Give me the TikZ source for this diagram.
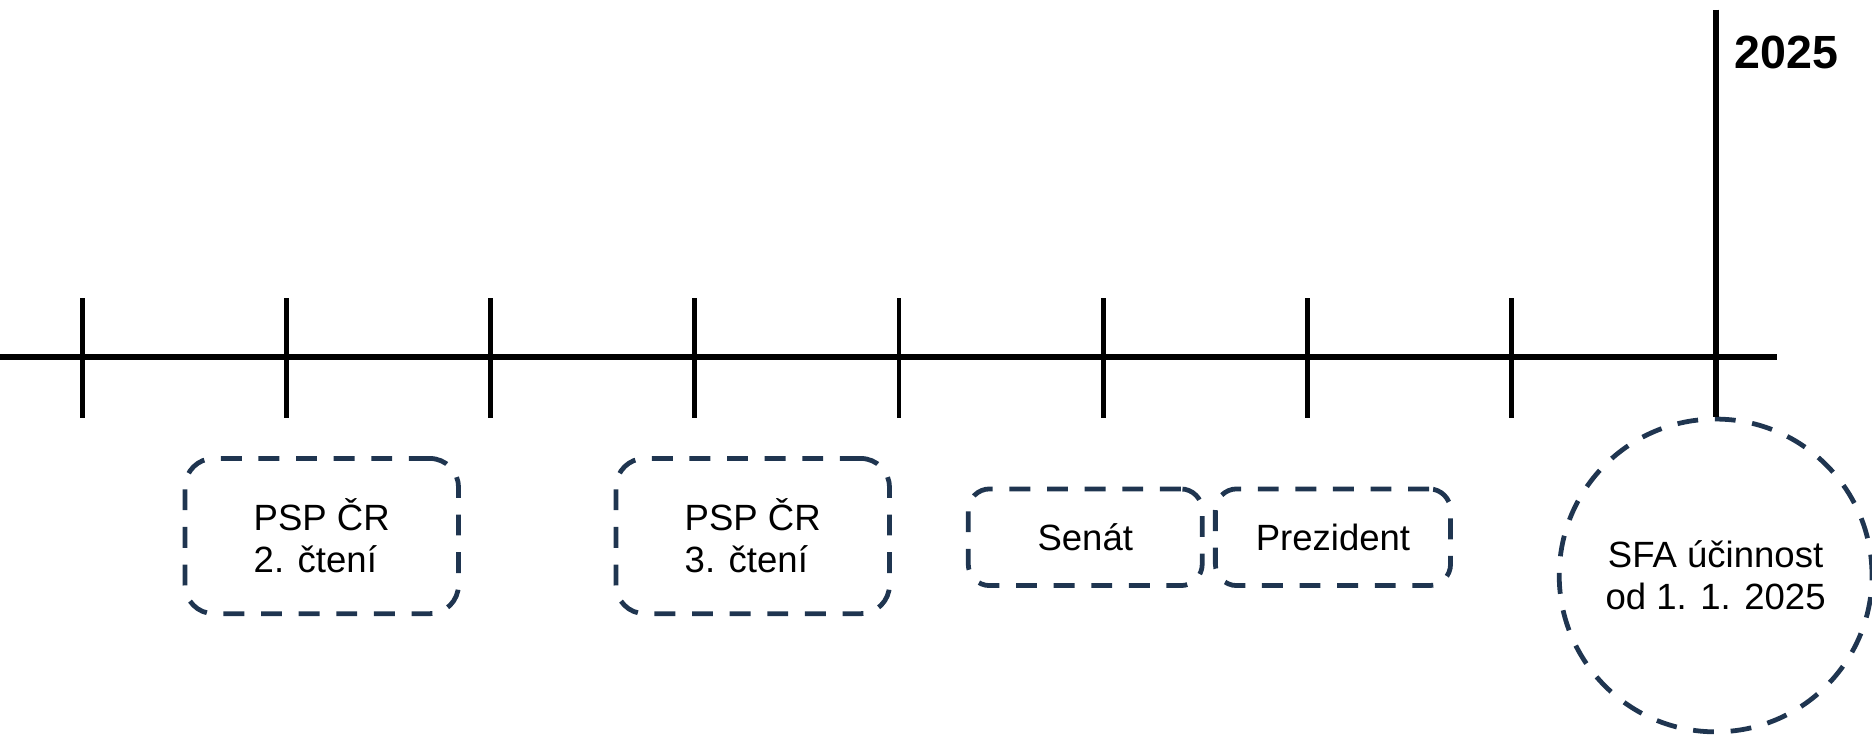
\documentclass[tikz,border=0pt]{standalone}
\usepackage{fontspec}
\setmainfont{Liberation Sans}
\definecolor{navy}{RGB}{31,53,80}
\begin{document}
\begin{tikzpicture}[x=1pt,y=-1pt,
  axisline/.style={line width=4.3pt,black},
  tickline/.style={line width=4pt,black},
  dbox/.style={draw=navy,line width=4pt,dash pattern=on 17.5pt off 14pt,
     rounded corners=24pt,align=center,inner sep=0pt,
     font=\fontsize{30.6}{35}\selectfont},
  dcircle/.style={draw=navy,line width=4pt,dash pattern=on 17.5pt off 14pt,
     circle,minimum size=262pt,align=center,inner sep=0pt,
     font=\fontsize{30.6}{35}\selectfont}]
\useasboundingbox (0,0) rectangle (1568,616);
% axis
\coordinate (a0) at (0,299);
\coordinate (a1) at (1488,299);
\draw[axisline] (a0) -- (a1);
\foreach \x in {69,240,411,582,753,924,1095,1266}
  \draw[tickline] (\x,250) -- (\x,350);
% boxes
\node[dbox,align=left,minimum width=229pt,minimum height=130pt] (b1) at (269.5,449) {PSP ČR\\2. čtení};
\node[dbox,align=left,minimum width=229pt,minimum height=130pt] (b2) at (630.5,449) {PSP ČR\\3. čtení};
\node[dbox,rounded corners=18pt,minimum width=196pt,minimum height=81pt] (b3) at (909,450) {Senát};
\node[dbox,rounded corners=18pt,minimum width=197pt,minimum height=81pt] (b4) at (1116.5,450) {Prezident};
\node[dcircle] (c1) at (1437,482) {SFA účinnost\\od 1. 1. 2025};
% 2025 marker
\coordinate (top) at (1437,8);
\draw[line width=5pt,black] (top) -- (c1.north);
\node[font=\fontsize{39}{44}\bfseries\selectfont,anchor=west,inner sep=0pt] (yr) at (1453,44) {2025};
\end{tikzpicture}
\end{document}
